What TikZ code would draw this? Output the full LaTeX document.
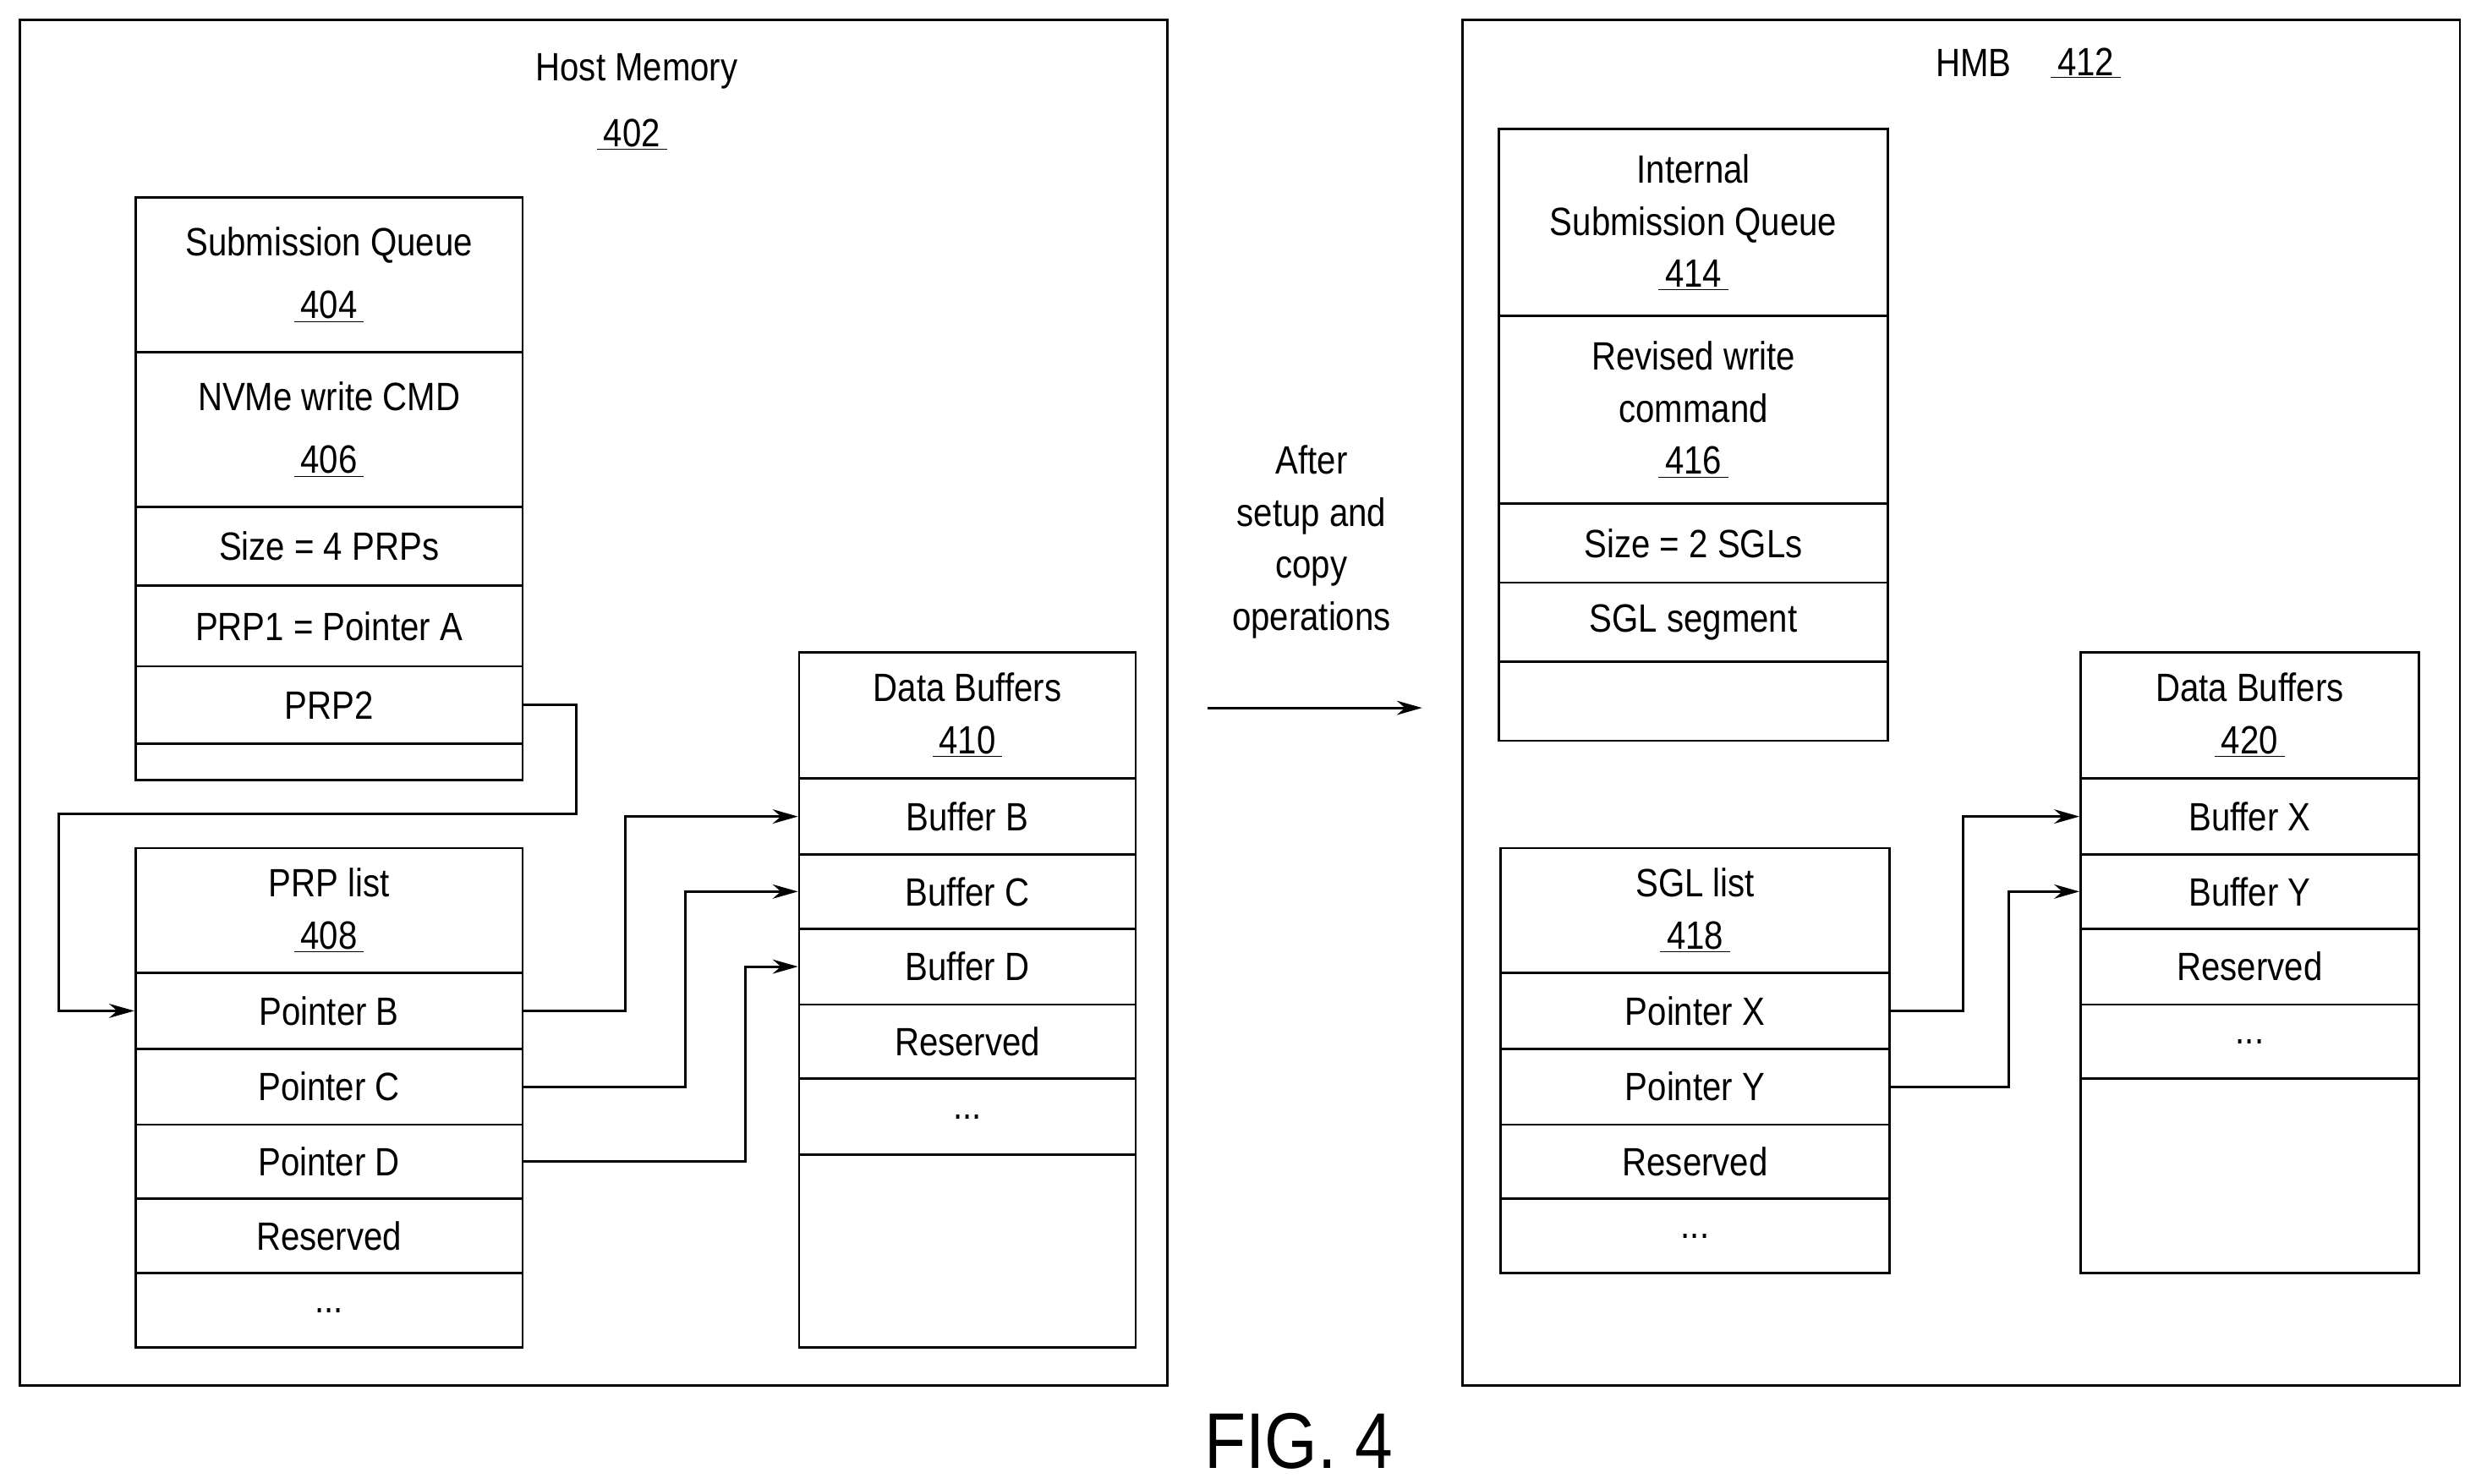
\documentclass[tikz,border=0pt]{standalone}
\usepackage{fontspec}
\setmainfont{Liberation Sans}[FakeStretch=0.86]
\usetikzlibrary{arrows.meta}
\newcommand\cell[6]{\node[cell,anchor=north west,minimum width={(#4-#2)*1pt},minimum height={(#5-#3)*1pt}] (#1) at (#2pt,-#3pt) {#6};}
\newcommand\ulnum[1]{\underline{\,#1\,}}
\begin{document}
\begin{tikzpicture}[x=1pt,y=1pt,
  cell/.style={draw,line width=1.5pt,inner sep=0pt,align=center,font=\fontsize{25}{33}\selectfont},
  box/.style={draw,line width=1.5pt},
  arr/.style={line width=1.6pt,-{Stealth[length=16pt,width=9pt]}},
  lbl/.style={font=\fontsize{25}{33}\selectfont,align=center,inner sep=0pt}]
\useasboundingbox (0,0) rectangle (1560,-939);
% left
\node[box,anchor=north west,minimum width=726pt,minimum height=864pt] (hm) at (12,-12) {};
\node[lbl] (hmt) at (403,-45) {Host Memory};
\node[lbl] (hmn) at (400,-85) {\ulnum{402}};
\cell{sq}{85}{124}{330}{222}{Submission Queue\\[7pt]\ulnum{404}}
\cell{cmd}{85}{222}{330}{320}{NVMe write CMD\\[7pt]\ulnum{406}}
\cell{sz}{85}{320}{330}{370}{Size = 4 PRPs}
\cell{prp1}{85}{370}{330}{421}{PRP1 = Pointer A}
\cell{prp2}{85}{421}{330}{470}{PRP2}
\cell{sqe}{85}{470}{330}{493}{}
\cell{pl}{85}{536}{330}{615}{PRP list\\\ulnum{408}}
\cell{pb}{85}{615}{330}{663}{Pointer B}
\cell{pc}{85}{663}{330}{711}{Pointer C}
\cell{pd}{85}{711}{330}{758}{Pointer D}
\cell{pr}{85}{758}{330}{805}{Reserved}
\cell{pe}{85}{805}{330}{852}{...}
\cell{db}{505}{412}{718}{492}{Data Buffers\\\ulnum{410}}
\cell{bb}{505}{492}{718}{540}{Buffer B}
\cell{bc}{505}{540}{718}{587}{Buffer C}
\cell{bd}{505}{587}{718}{635}{Buffer D}
\cell{br}{505}{635}{718}{682}{Reserved}
\cell{be}{505}{682}{718}{730}{...}
\cell{bx}{505}{730}{718}{852}{}
\draw[arr] (prp2.east) -- ++(33,0) -- ++(0,-69) -| ([xshift=-48pt]pb.west) -- (pb.west);
\draw[arr] (pb.east) -- ++(64,0) |- (bb.west);
\draw[arr] (pc.east) -- ++(102,0) |- (bc.west);
\draw[arr] (pd.east) -- ++(140,0) |- (bd.west);
% middle
\node[lbl] (mid) at (830,-343) {After\\setup and\\copy\\operations};
\coordinate (a1) at (764,-448);
\coordinate (a2) at (900,-448);
\draw[arr] (a1) -- (a2);
% right
\node[box,anchor=north west,minimum width=631pt,minimum height=864pt] (hmb) at (925,-12) {};
\node[lbl] (hmbt) at (1249,-40) {HMB};
\node[lbl] (hmbn) at (1320,-40) {\ulnum{412}};
\cell{isq}{948}{81}{1194}{199}{Internal\\Submission Queue\\\ulnum{414}}
\cell{rw}{948}{199}{1194}{318}{Revised write\\command\\\ulnum{416}}
\cell{sz2}{948}{318}{1194}{368}{Size = 2 SGLs}
\cell{seg}{948}{368}{1194}{418}{SGL segment}
\cell{ise}{948}{418}{1194}{468}{}
\cell{sl}{949}{536}{1195}{615}{SGL list\\\ulnum{418}}
\cell{px}{949}{615}{1195}{663}{Pointer X}
\cell{py}{949}{663}{1195}{711}{Pointer Y}
\cell{sr}{949}{711}{1195}{758}{Reserved}
\cell{se}{949}{758}{1195}{805}{...}
\cell{db2}{1316}{412}{1530}{492}{Data Buffers\\\ulnum{420}}
\cell{xb}{1316}{492}{1530}{540}{Buffer X}
\cell{yb}{1316}{540}{1530}{587}{Buffer Y}
\cell{rb}{1316}{587}{1530}{635}{Reserved}
\cell{eb}{1316}{635}{1530}{682}{...}
\cell{xb2}{1316}{682}{1530}{805}{}
\draw[arr] (px.east) -- ++(46,0) |- (xb.west);
\draw[arr] (py.east) -- ++(75,0) |- (yb.west);
\node[lbl,font=\fontsize{50}{60}\selectfont] (fig) at (822,-912) {FIG. 4};
\end{tikzpicture}
\end{document}
